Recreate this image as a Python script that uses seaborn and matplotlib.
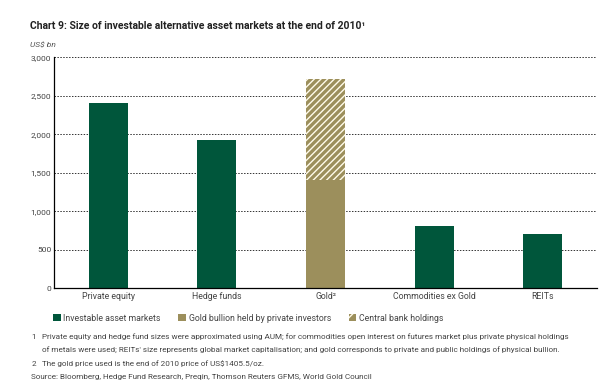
import numpy as np
import pandas as pd
import matplotlib
matplotlib.use('Agg')
import matplotlib.pyplot as plt
import matplotlib.patches as mpatches
import seaborn as sns

# --- DADOS ---
categorias = ['Private equity', 'Hedge funds', 'Gold²', 'Commodities ex Gold', 'REITs']
investable = [2400, 1925, 0, 815, 710]
gold_private = [0, 0, 1410, 0, 0]
central_bank = [0, 0, 1310, 0, 0]
yticks = [0, 500, 1000, 1500, 2000, 2500, 3000]

verde = '#00563B'
ouro = '#9C8F5C'

sns.set_theme(style='white')
plt.rcParams['font.family'] = ['Roboto', 'DejaVu Sans']
plt.rcParams['hatch.color'] = '#FFFBEA'
plt.rcParams['hatch.linewidth'] = 1.0

df = pd.DataFrame({'cat': categorias, 'inv': investable,
                   'gp': gold_private, 'cb': central_bank})
df['gold_total'] = df['gp'] + df['cb']

fig = plt.figure(figsize=(6, 3.87), dpi=100)
ax = fig.add_axes([0.09, 0.255, 0.905, 0.597])

w = 0.36
# ouro total (com hachura) e depois a parte privada por cima
sns.barplot(data=df, x='cat', y='gold_total', color=ouro, width=w, ax=ax,
            hatch='/////', edgecolor='#FFFBEA', linewidth=0, saturation=1)
sns.barplot(data=df, x='cat', y='gp', color=ouro, width=w, ax=ax,
            linewidth=0, saturation=1)
sns.barplot(data=df, x='cat', y='inv', color=verde, width=w, ax=ax,
            linewidth=0, saturation=1)

txt = '#444444'
ax.set_xlim(-0.5, len(categorias) - 0.5)
ax.set_ylim(0, 3000)
ax.set_yticks(yticks)
ax.set_yticklabels([f'{v:,}' for v in yticks], fontsize=6, color=txt)
ax.set_xlabel('')
ax.set_ylabel('')
ax.set_xticks(range(len(categorias)))
ax.set_xticklabels(categorias, fontsize=6.3, color=txt)
ax.tick_params(axis='x', length=0, pad=3)
ax.tick_params(axis='y', length=0, pad=2)
# ticks nas fronteiras
ax.set_xticks(np.arange(-0.5, len(categorias), 1), minor=True)
ax.tick_params(axis='x', which='minor', length=3, width=0.8, color='black', direction='out')

for y in yticks[1:]:
    ax.axhline(y, color='#333333', lw=0.7, ls=(0, (1.5, 1.5)), zorder=0)

for s in ['top', 'right']:
    ax.spines[s].set_visible(False)
ax.spines['left'].set_color('black')
ax.spines['bottom'].set_color('black')
ax.spines['left'].set_linewidth(0.9)
ax.spines['bottom'].set_linewidth(0.9)

fig.text(0.05, 0.925, 'Chart 9: Size of investable alternative asset markets at the end of 2010¹',
         fontsize=7.5, fontweight='bold', color='#222222')
fig.text(0.05, 0.878, 'US$ bn', fontsize=6, style='italic', color='#555555')

h1 = mpatches.Patch(facecolor=verde, edgecolor='none', label='Investable asset markets')
h2 = mpatches.Patch(facecolor=ouro, edgecolor='none', label='Gold bullion held by private investors')
h3 = mpatches.Patch(facecolor=ouro, edgecolor='#FFFBEA', hatch='///', lw=0, label='Central bank holdings')
fig.legend(handles=[h1, h2, h3], loc='center left', bbox_to_anchor=(0.075, 0.178), ncol=3,
           frameon=False, fontsize=6.3, handlelength=0.9, handleheight=0.9,
           handletextpad=0.3, columnspacing=2.0, labelcolor=txt)

fs = 5.9
fig.text(0.052, 0.124, '1', fontsize=fs, color=txt)
fig.text(0.07, 0.124, 'Private equity and hedge fund sizes were approximated using AUM; for commodities open interest on futures market plus private physical holdings',
         fontsize=fs, color=txt)
fig.text(0.07, 0.092, "of metals were used; REITs' size represents global market capitalisation; and gold corresponds to private and public holdings of physical bullion.",
         fontsize=fs, color=txt)
fig.text(0.052, 0.055, '2', fontsize=fs, color=txt)
fig.text(0.07, 0.055, 'The gold price used is the end of 2010 price of US$1405.5/oz.', fontsize=fs, color=txt)
fig.text(0.052, 0.02, 'Source: Bloomberg, Hedge Fund Research, Preqin, Thomson Reuters GFMS, World Gold Council',
         fontsize=fs, color=txt)

fig.savefig('out.png', dpi=100)
